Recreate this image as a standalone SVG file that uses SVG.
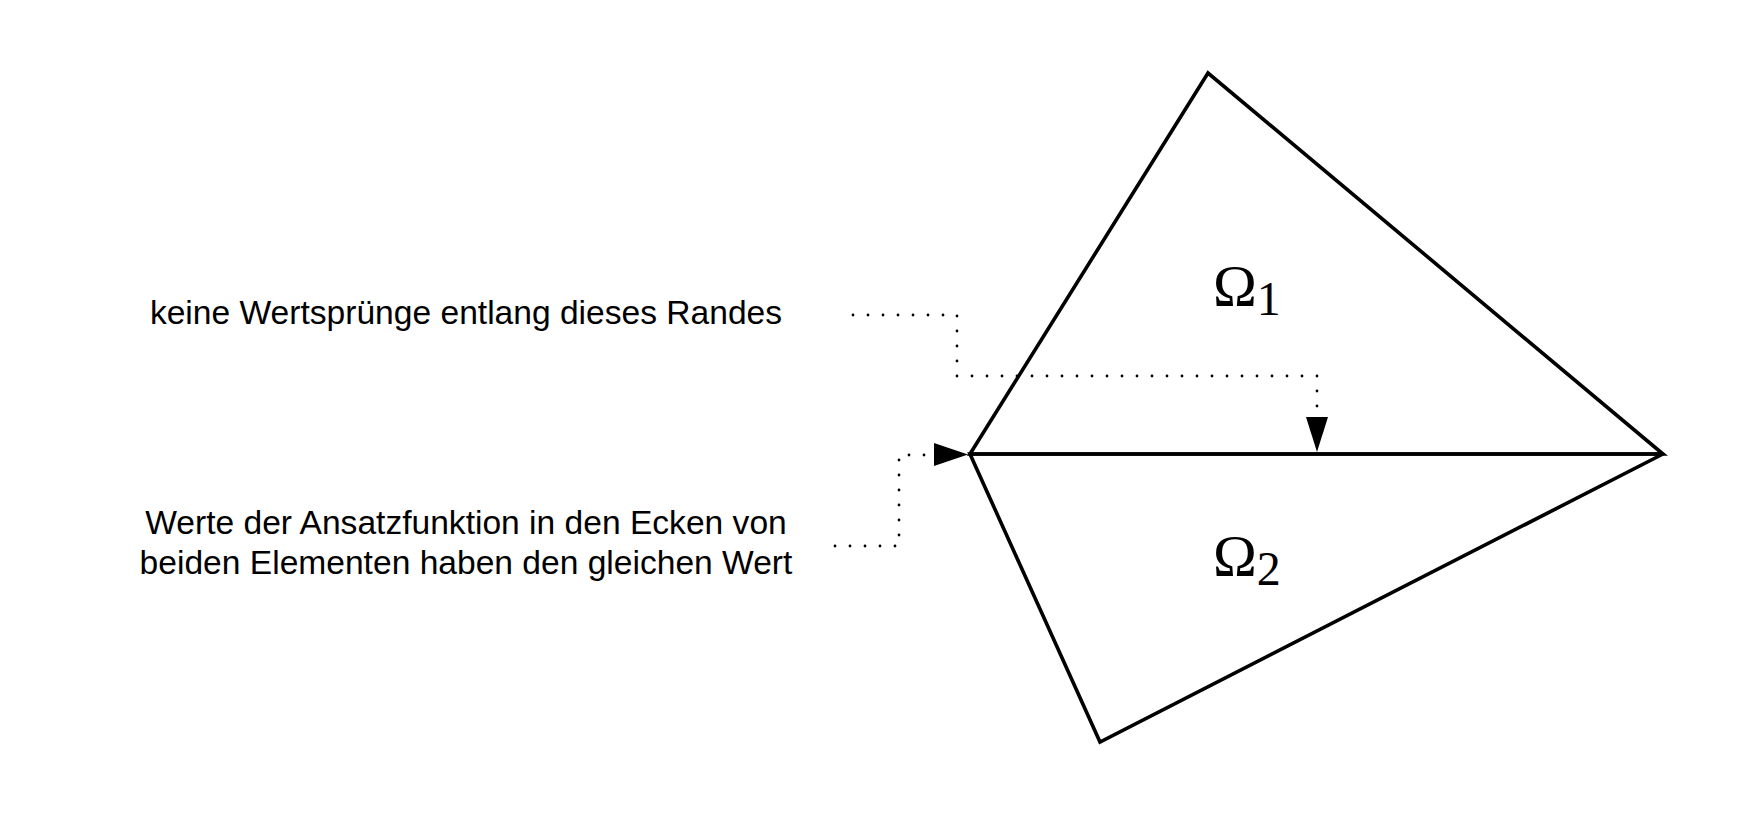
<svg xmlns="http://www.w3.org/2000/svg" width="1738" height="818" viewBox="0 0 1738 818">
<style>
.edge{fill:none;stroke:#000;stroke-width:3.6;stroke-linejoin:miter}
.dot{fill:none;stroke:#000;stroke-width:2.8;stroke-linecap:round;stroke-dasharray:0 15}
.lbl{font-family:"Liberation Sans",Arial,sans-serif;font-size:33.6px;fill:#000;text-anchor:middle}
.om{font-family:"Liberation Serif","Times New Roman",serif;font-size:59px;fill:#000}
.sub{font-size:48px}
</style>
<rect width="1738" height="818" fill="#fff"/>
<g id="omega1">
<polygon class="edge" points="1208,73 970,454 1663,454"/>
<text class="om" x="1213" y="306">Ω<tspan class="sub" dy="9">1</tspan></text>
</g>
<g id="omega2">
<polygon class="edge" points="970,454 1663,454 1100,742"/>
<text class="om" x="1213" y="576">Ω<tspan class="sub" dy="9">2</tspan></text>
</g>
<g id="label1">
<text class="lbl" x="466" y="324">keine Wertsprünge entlang dieses Randes</text>
</g>
<g id="label2">
<text class="lbl" x="466" y="534">Werte der Ansatzfunktion in den Ecken von</text>
<text class="lbl" x="466" y="574">beiden Elementen haben den gleichen Wert</text>
</g>
<g id="connectors">
<path class="dot" d="M853 315 H957 V376 H1317 V412"/>
<path d="M1306 417 L1328 417 L1317 452 Z" fill="#000"/>
<path class="dot" d="M835 546 H899 V455 H930"/>
<path d="M934 443 L968 454.5 L934 466 Z" fill="#000"/>
</g>
</svg>
